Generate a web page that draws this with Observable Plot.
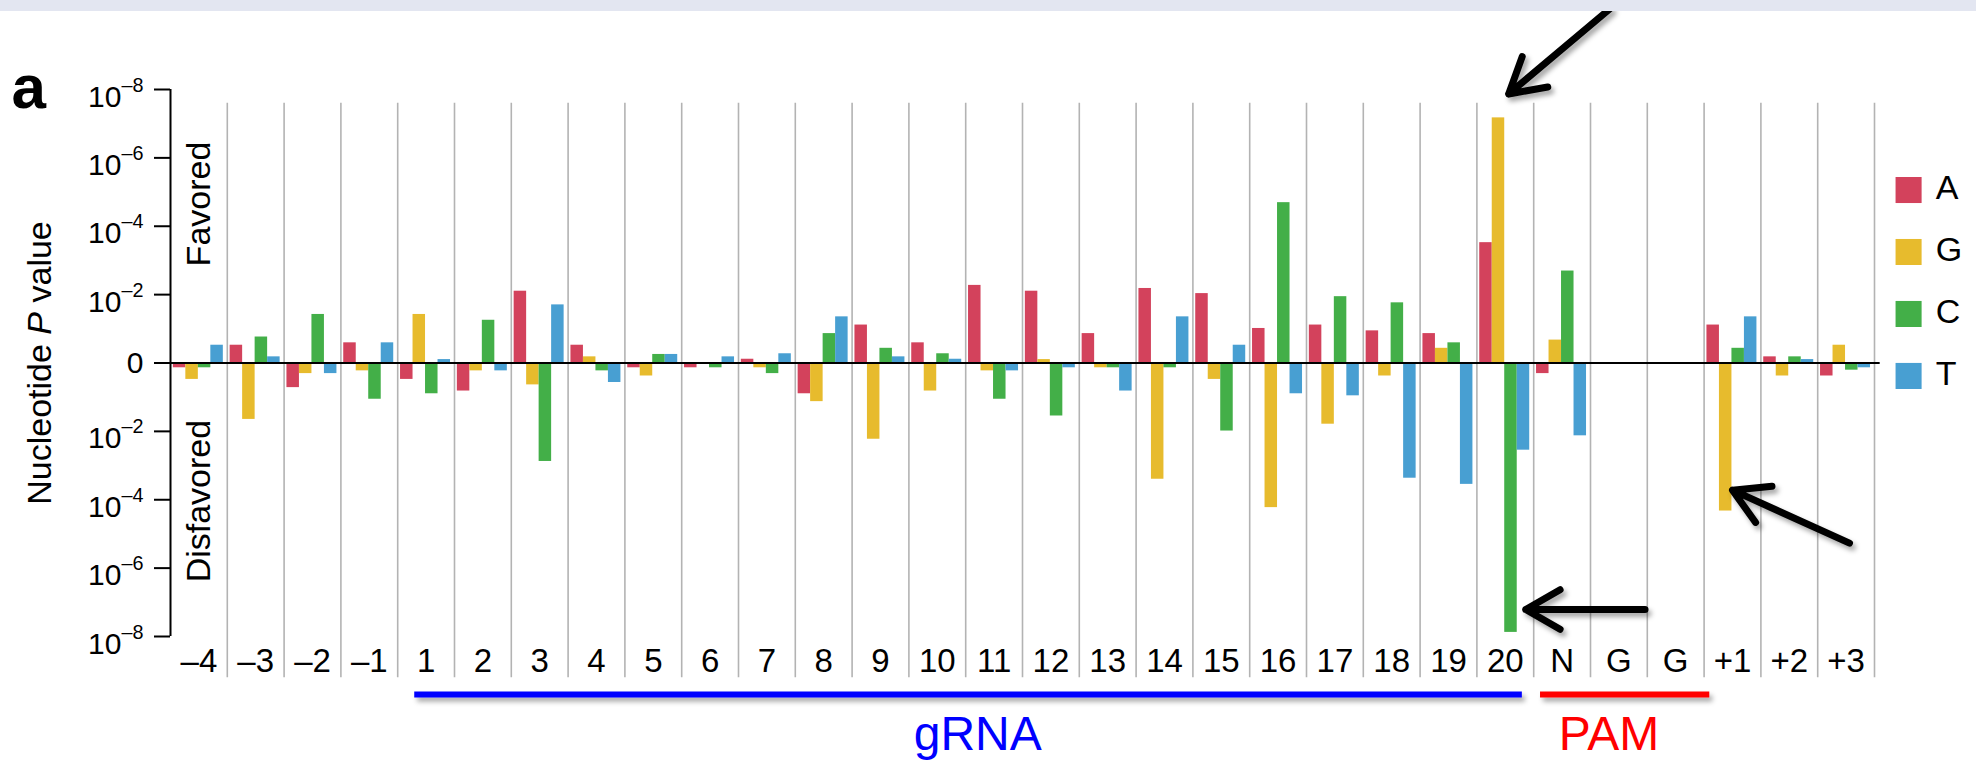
<!DOCTYPE html>
<html>
<head>
<meta charset="utf-8">
<script src="https://cdn.jsdelivr.net/npm/d3@7"></script>
<script src="https://cdn.jsdelivr.net/npm/@observablehq/plot@0.6"></script>
<style>
  html, body { margin: 0; padding: 0; background: #ffffff; }
  body { width: 1976px; height: 760px; overflow: hidden; position: relative; }
  #chart { position: absolute; left: 0; top: 0; }
  #band { position: absolute; left: 0; top: 0; width: 1976px; height: 11px; background: #e3e6f1; }
</style>
</head>
<body>
<div id="chart"></div>
<div id="band"></div>
<script>
// ---- data ----
const positions = ["–4","–3","–2","–1","1","2","3","4","5","6","7","8","9","10","11","12","13","14","15","16","17","18","19","20","N","G","G","+1","+2","+3"];
const bases = ["A", "G", "C", "T"];
const baseColors = ["#d3425c", "#e7bb2d", "#43af48", "#489fd2"];
// signed -log10(P): positive = favored, negative = disfavored
const valuesA = [-0.14,0.52,-0.72,0.59,-0.48,-0.82,2.1,0.52,-0.14,-0.14,0.11,-0.9,1.11,0.59,2.27,2.1,0.86,2.18,2.03,1.01,1.11,0.94,0.86,3.52,-0.31,0,0,1.11,0.18,-0.38];
const valuesG = [-0.48,-1.65,-0.31,-0.23,1.42,-0.23,-0.64,0.18,-0.38,0,-0.14,-1.13,-2.23,-0.82,-0.23,0.1,-0.14,-3.4,-0.48,-4.23,-1.79,-0.38,0.43,7.17,0.67,0,0,-4.33,-0.38,0.52];
const valuesC = [-0.14,0.76,1.42,-1.06,-0.9,1.25,-2.88,-0.23,0.25,-0.14,-0.31,0.86,0.43,0.27,-1.06,-1.55,-0.14,-0.14,-1.99,4.69,1.94,1.76,0.59,-7.88,2.69,0,0,0.43,0.18,-0.21];
const valuesT = [0.52,0.18,-0.31,0.59,0.1,-0.23,1.7,-0.57,0.25,0.18,0.27,1.35,0.18,0.11,-0.23,-0.14,-0.82,1.35,0.52,-0.9,-0.96,-3.37,-3.55,-2.55,-2.13,0,0,1.35,0.1,-0.14];
const yTicks = [8, 6, 4, 2, 0, -2, -4, -6, -8];
const yTickLabels = ["10–8", "10–6", "10–4", "10–2", "0", "10–2", "10–4", "10–6", "10–8"];
const yTitle = "Nucleotide P value";
const sideLabels = ["Favored", "Disfavored"];
const panelLabel = "a";
const regions = [{label: "gRNA", first: "1", count: 20}, {label: "PAM", first: "N", count: 3}];
const regionColors = ["#0000ff", "#ff0000"];
const arrowNotes = [{position: "20", base: "G"}, {position: "20", base: "C"}, {position: "+1", base: "G"}];

// ---- build ----
const FONT = "'Liberation Sans', Arial, Helvetica, sans-serif";
const series = {A: valuesA, G: valuesG, C: valuesC, T: valuesT};
const bars = positions.flatMap((p, i) => bases.map((b, j) => ({i, j, position: p, base: b, value: series[b][i]})));
const slot = 0.22, inset = 0.05;
const barX = d => d.i + inset + d.j * slot;

// arrow geometry relative to the annotated bar end (data units)
const arrowGeom = [
  {tip: [0.18, 0.70], tail: [1.78, 2.49]},
  {tip: [0.26, 0.67], tail: [2.10, 0]},
  {tip: [0.12, 0.61], tail: [2.06, -1.55]}
];
const arrows = arrowNotes.map((n, k) => {
  const b = bars.find(d => d.position === n.position && d.base === n.base);
  const g = arrowGeom[k];
  const x2 = barX(b) + slot / 2 + g.tip[0];
  const y2 = b.value + g.tip[1];
  return {x1: x2 + g.tail[0], y1: y2 + g.tail[1], x2, y2};
});
const rIdx = r => positions.indexOf(r.first);
const legendY = (d, i) => 5.06 - 1.813 * i;

const chart = Plot.plot({
  width: 1976,
  height: 760,
  marginLeft: 170,
  marginRight: 102,
  marginTop: 89,
  marginBottom: 124,
  x: {domain: [0, 30]},
  y: {domain: [-8, 8]},
  color: {domain: bases, range: baseColors},
  style: {fontFamily: FONT, background: "transparent", color: "black", overflow: "visible"},
  marks: [
    Plot.ruleX(d3.range(1, 31), {y1: 7.6, y2: -9.21, stroke: "#b3b3b3", strokeWidth: 1.6}),
    Plot.rect(bars, {x1: barX, x2: d => barX(d) + slot, y1: 0, y2: "value", fill: "base"}),
    Plot.ruleY([0], {x1: -0.28, x2: 30.1, stroke: "black", strokeWidth: 2}),
    Plot.ruleX([0], {y1: -8, y2: 8, stroke: "black", strokeWidth: 2}),
    Plot.axisY({
      ticks: yTicks,
      tickFormat: t => yTickLabels[yTicks.indexOf(t)],
      tickSize: 16, tickPadding: 11, fontSize: 30, strokeWidth: 2, label: null
    }),
    Plot.axisX({
      ticks: d3.range(30).map(i => i + 0.5),
      tickFormat: t => positions[Math.floor(t)],
      tickSize: 0, tickPadding: 12, fontSize: 33, label: null
    }),
    Plot.text([yTitle], {frameAnchor: "left", dx: -130, rotate: -90, fontSize: 34, textAnchor: "middle", lineAnchor: "middle"}),
    Plot.text([sideLabels[0]], {frameAnchor: "left", dx: 29, y: 4.65, rotate: -90, fontSize: 34, textAnchor: "middle", lineAnchor: "middle"}),
    Plot.text([sideLabels[1]], {frameAnchor: "left", dx: 29, y: -4.04, rotate: -90, fontSize: 34, textAnchor: "middle", lineAnchor: "middle"}),
    Plot.text([panelLabel], {frameAnchor: "top-left", dx: -159, dy: 18, lineAnchor: "bottom", textAnchor: "start", fontSize: 62, fontWeight: "bold"}),
    // legend
    Plot.dot(bases, {x: 30.6, y: legendY, symbol: "square", r: 14.7, fill: d => d}),
    Plot.text(bases, {x: 31.08, y: legendY, dy: -2, text: d => d, textAnchor: "start", lineAnchor: "middle", fontSize: 34}),
    // region annotations
    Plot.ruleY([regions[0]], {y: -9.70, x1: d => rIdx(d) + 0.3, x2: d => rIdx(d) + d.count - 0.2, stroke: regionColors[0], strokeWidth: 6}),
    Plot.ruleY([regions[1]], {y: -9.70, x1: d => rIdx(d) + 0.12, x2: d => rIdx(d) + d.count + 0.1, stroke: regionColors[1], strokeWidth: 6}),
    Plot.text([regions[0]], {x: d => rIdx(d) + d.count / 2, y: -9.70, dx: 12, dy: 55, text: "label", fill: regionColors[0], fontSize: 48, lineAnchor: "bottom", textAnchor: "middle"}),
    Plot.text([regions[1]], {x: d => rIdx(d) + d.count / 2, y: -9.70, dx: -10, dy: 55, text: "label", fill: regionColors[1], fontSize: 48, lineAnchor: "bottom", textAnchor: "middle"}),
    // arrows
    Plot.arrow(arrows, {x1: "x1", y1: "y1", x2: "x2", y2: "y2", stroke: "black", strokeWidth: 7, headLength: 8.5, headAngle: 60, strokeLinecap: "round", strokeLinejoin: "round"})
  ]
});

document.getElementById("chart").appendChild(chart);

// ---- post-processing: superscripts, italic P, shadows ----
const svg = d3.select(chart);
svg.selectAll("text").each(function () {
  const s = this.textContent;
  const m = /^10(–\d)$/.exec(s);
  if (m && !this.querySelector("tspan")) {
    const t = d3.select(this);
    t.text("10").attr("y", "0.57em");
    t.append("tspan").attr("dy", "-15").attr("font-size", "0.66em").text(m[1]);
  } else if (s === yTitle) {
    const t = d3.select(this);
    t.text(null);
    t.append("tspan").text("Nucleotide ");
    t.append("tspan").attr("font-style", "italic").text("P");
    t.append("tspan").text(" value");
  }
});
const defs = svg.insert("defs", ":first-child");
const f = defs.append("filter").attr("id", "shadow").attr("filterUnits", "userSpaceOnUse")
  .attr("x", -200).attr("y", -200).attr("width", 2400).attr("height", 1200);
f.append("feDropShadow").attr("dx", 3).attr("dy", 4).attr("stdDeviation", 2.5)
  .attr("flood-color", "#000").attr("flood-opacity", 0.35);
svg.selectAll('g[aria-label="arrow"], g[stroke="#0000ff"], g[stroke="#ff0000"]').attr("filter", "url(#shadow)");
</script>
</body>
</html>
